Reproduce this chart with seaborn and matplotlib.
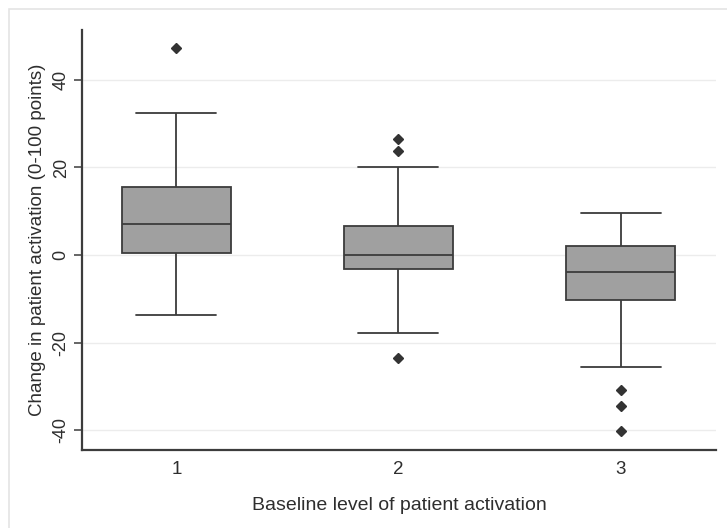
import matplotlib
matplotlib.use("Agg")
import matplotlib.pyplot as plt
from matplotlib.patches import Rectangle
import seaborn as sns
import pandas as pd

categories = ["1", "2", "3"]
level1_values = [-13.8, 0.4, 0.4, 7.1, 7.1, 15.6, 15.6, 32.5, 47.4]
level2_values = [-23.6, -17.8, -3.2, -3.2, 0.0, 0.0, 0.0, 6.6, 6.6, 6.6, 20.1, 23.8, 26.6]
level3_values = [-40.1, -34.5, -30.9, -25.5, -10.3, -10.3, -3.9, -3.9, -3.9,
                 2.0, 2.0, 2.0, 2.0, 9.6, 9.6, 9.6, 9.6]
y_ticks = [-40, -20, 0, 20, 40]

df = pd.DataFrame({
    "level": (["1"] * len(level1_values) + ["2"] * len(level2_values)
              + ["3"] * len(level3_values)),
    "change": level1_values + level2_values + level3_values,
})

sns.set_theme(style="white")
plt.rcParams["font.family"] = ["Liberation Sans", "DejaVu Sans"]

fig = plt.figure(figsize=(7.27, 5.28), dpi=100)
ax = fig.add_axes([0.113, 0.148, 0.872, 0.796])

# faint outer frame (Stata graph region)
fig.patches.append(Rectangle((9 / 727, -0.05), 1.2, 1 - 9 / 528 + 0.05,
                             transform=fig.transFigure, fill=False,
                             edgecolor="#e4e4e4", linewidth=1.2, zorder=0))

edge = "#3c3c3c"
sns.boxplot(data=df, x="level", y="change", order=categories, ax=ax,
            color="#a0a0a0", width=0.49, whis=1.5, saturation=1,
            linecolor=edge, linewidth=1.3, capwidths=0.36,
            boxprops=dict(facecolor="#a0a0a0", edgecolor=edge),
            flierprops=dict(marker="D", markersize=5.5, markerfacecolor="#333333",
                            markeredgecolor="#333333"))

for y in y_ticks:
    ax.axhline(y, color="#ececec", linewidth=1.0, zorder=0)

ax.set_xlim(-0.424, 2.43)
ax.set_ylim(-44.5, 51.5)
ax.set_yticks(y_ticks)
ax.set_yticklabels([str(t) for t in y_ticks], rotation=90, va="center", fontsize=13,
                   color="#2e2e2e")
ax.set_xticks(range(len(categories)))
ax.set_xticklabels(categories, fontsize=13.5, color="#2e2e2e")
ax.tick_params(axis="y", which="major", left=True, length=6, width=1.1,
               color=edge, pad=3)
ax.tick_params(axis="x", which="major", bottom=False, length=0, pad=8)

for s in ["top", "right"]:
    ax.spines[s].set_visible(False)
for s in ["left", "bottom"]:
    ax.spines[s].set_color(edge)
    ax.spines[s].set_linewidth(1.6)

ax.set_xlabel("Baseline level of patient activation", fontsize=14,
              color="#2e2e2e", labelpad=14)
ax.set_ylabel("Change in patient activation (0-100 points)", fontsize=13.5,
              color="#2e2e2e", labelpad=5)
ax.grid(False)

fig.savefig("out.png", dpi=100, facecolor="white")
